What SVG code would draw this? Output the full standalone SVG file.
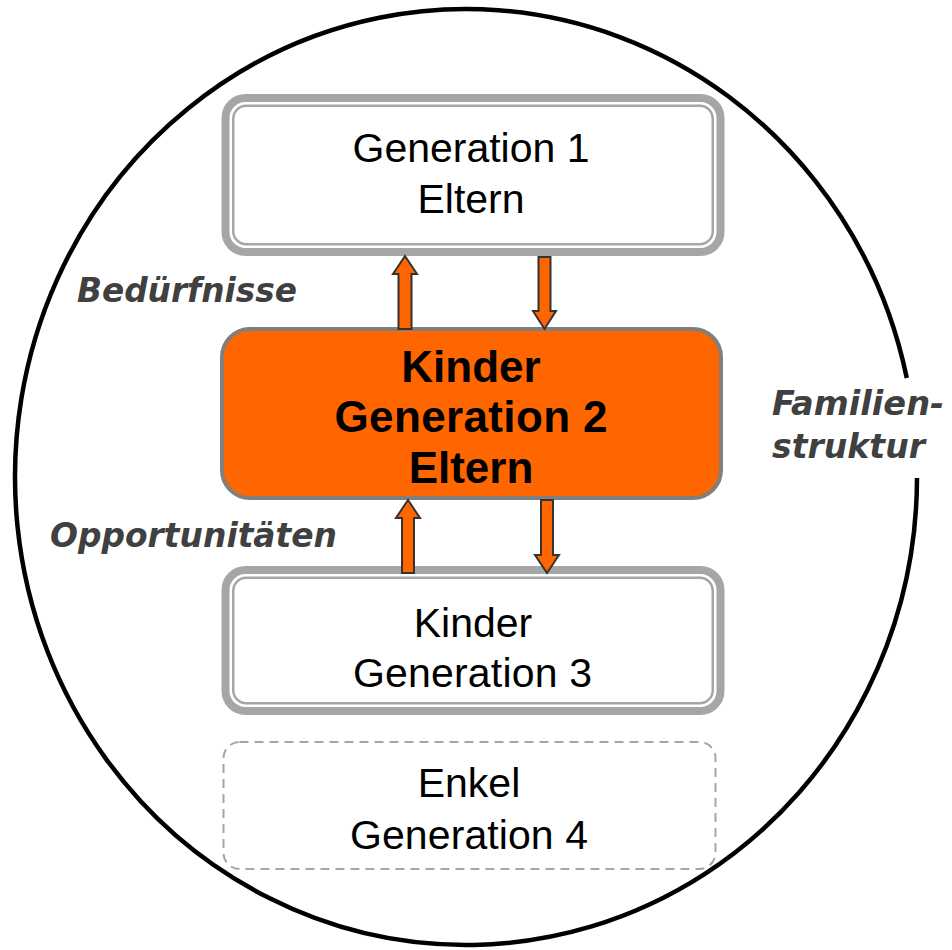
<svg xmlns="http://www.w3.org/2000/svg" width="952" height="950" viewBox="0 0 952 950">
  <style>
    .frame { fill: none; stroke: #000; stroke-width: 4.5; }
    .outer { fill: #fff; stroke: #A6A6A6; stroke-width: 8; }
    .inner { fill: none; stroke: #A6A6A6; stroke-width: 2.5; }
    .main { fill: #FF6600; stroke: #7F7F7F; stroke-width: 4; }
    .dashed { fill: none; stroke: #A6A6A6; stroke-width: 2; stroke-dasharray: 9 6; }
    .t { font-family: "Liberation Sans", Arial, sans-serif; font-size: 41px; fill: #000; text-anchor: middle; }
    .tb { font-family: "Liberation Sans", Arial, sans-serif; font-size: 44px; font-weight: bold; fill: #000; text-anchor: middle; }
    .lbl { font-family: "DejaVu Sans", Verdana, sans-serif; font-size: 33px; font-weight: bold; font-style: italic; fill: #404040; }
    .arrow { fill: #FF6600; stroke: #333; stroke-width: 2; stroke-linejoin: miter; }
  </style>
  <rect width="952" height="950" fill="#fff"/>
  <g id="familienstruktur">
    <path class="frame" d="M 917 478 A 451 468 0 1 1 906.8 378"/>
    <text class="lbl" x="772" y="415" textLength="172" lengthAdjust="spacingAndGlyphs">Familien-</text>
    <text class="lbl" x="772" y="458" textLength="153" lengthAdjust="spacingAndGlyphs">struktur</text>
  </g>
  <g id="gen1">
    <rect class="outer" x="225.5" y="98" width="495" height="154" rx="20"/>
    <rect class="inner" x="233.25" y="105.75" width="479.5" height="138.5" rx="13"/>
    <text class="t" x="471" y="162" textLength="237">Generation 1</text>
    <text class="t" x="471" y="213">Eltern</text>
  </g>
  <g id="gen2">
    <rect class="main" x="222" y="329" width="499" height="169" rx="28"/>
    <text class="tb" x="471" y="382">Kinder</text>
    <text class="tb" x="471" y="432" textLength="273">Generation 2</text>
    <text class="tb" x="471" y="483">Eltern</text>
  </g>
  <g id="gen3">
    <rect class="outer" x="225.5" y="570" width="495" height="141" rx="20"/>
    <rect class="inner" x="233.25" y="577.75" width="479.5" height="125.5" rx="13"/>
    <text class="t" x="473" y="637">Kinder</text>
    <text class="t" x="472.5" y="687" textLength="239">Generation 3</text>
  </g>
  <g id="gen4">
    <rect class="dashed" x="223.5" y="742" width="492" height="127" rx="16"/>
    <text class="t" x="469" y="797">Enkel</text>
    <text class="t" x="469" y="849" textLength="238">Generation 4</text>
  </g>
  <g id="labels">
    <text class="lbl" x="77" y="302" textLength="220" lengthAdjust="spacingAndGlyphs">Bedürfnisse</text>
    <text class="lbl" x="50" y="547" textLength="287" lengthAdjust="spacingAndGlyphs">Opportunitäten</text>
  </g>
  <g id="connectors">
    <polygon class="arrow" points="405,256 417,274 411.5,274 411.5,329 398.5,329 398.5,274 393,274"/>
    <polygon class="arrow" points="538.5,257 550.5,257 550.5,311 556,311 544.5,329 533,311 538.5,311"/>
    <polygon class="arrow" points="408,500 420,518 414,518 414,573 402,573 402,518 396,518"/>
    <polygon class="arrow" points="541,500 553,500 553,555 559,555 547,573 535,555 541,555"/>
  </g>
</svg>
